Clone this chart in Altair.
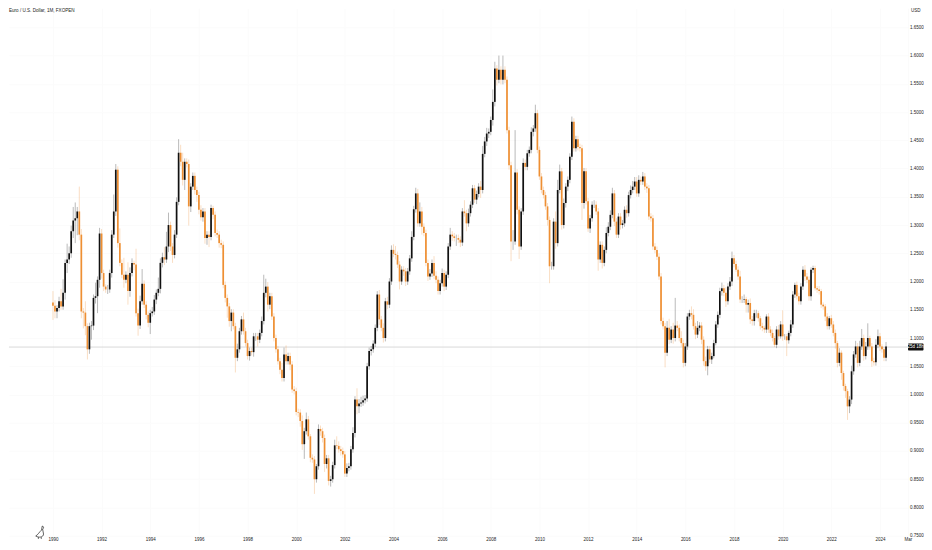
import altair as alt
import pandas as pd

first_open = 1.163
closes = [
 1.157,1.147,1.153,1.165,1.156,1.180,1.233,1.239,1.250,1.289,1.308,1.312,
 1.324,1.283,1.147,1.145,1.121,1.080,1.121,1.122,1.171,1.174,1.203,1.285,
 1.215,1.191,1.186,1.186,1.215,1.283,1.324,1.398,1.268,1.233,1.212,1.203,
 1.212,1.183,1.215,1.233,1.230,1.144,1.122,1.165,1.196,1.159,1.141,1.127,
 1.144,1.147,1.168,1.180,1.187,1.233,1.243,1.239,1.262,1.300,1.262,1.247,
 1.283,1.341,1.428,1.412,1.380,1.412,1.408,1.333,1.368,1.387,1.362,1.353,
 1.327,1.314,1.324,1.277,1.283,1.279,1.330,1.318,1.286,1.283,1.268,1.265,
 1.194,1.171,1.156,1.130,1.145,1.121,1.065,1.080,1.112,1.133,1.112,1.091,
 1.068,1.077,1.075,1.103,1.103,1.097,1.109,1.130,1.180,1.191,1.159,1.174,
 1.138,1.100,1.080,1.059,1.044,1.029,1.071,1.059,1.068,1.053,1.009,1.006,
 0.969,0.968,0.953,0.912,0.935,0.956,0.926,0.888,0.885,0.850,0.873,0.939,
 0.935,0.923,0.877,0.887,0.847,0.850,0.875,0.910,0.909,0.903,0.900,0.894,
 0.860,0.870,0.873,0.903,0.932,0.991,0.979,0.984,0.986,0.990,0.993,1.050,
 1.077,1.080,1.090,1.118,1.177,1.133,1.118,1.100,1.165,1.159,1.200,1.256,
 1.249,1.247,1.230,1.200,1.221,1.218,1.200,1.218,1.241,1.279,1.328,1.356,
 1.303,1.324,1.297,1.286,1.233,1.209,1.214,1.233,1.210,1.203,1.183,1.197,
 1.215,1.191,1.212,1.262,1.283,1.280,1.277,1.277,1.274,1.269,1.324,1.321,
 1.303,1.321,1.336,1.365,1.345,1.355,1.368,1.362,1.426,1.448,1.462,1.465,
 1.486,1.518,1.577,1.557,1.575,1.557,1.575,1.557,1.468,1.406,1.271,1.271,
 1.393,1.327,1.262,1.324,1.410,1.403,1.427,1.433,1.465,1.471,1.498,1.433,
 1.386,1.362,1.353,1.333,1.309,1.227,1.227,1.306,1.268,1.362,1.395,1.300,
 1.339,1.368,1.380,1.421,1.483,1.436,1.452,1.438,1.436,1.339,1.395,1.342,
 1.294,1.312,1.336,1.336,1.324,1.239,1.265,1.233,1.256,1.286,1.297,1.318,
 1.356,1.306,1.283,1.315,1.300,1.303,1.327,1.321,1.353,1.362,1.368,1.377,
 1.356,1.380,1.377,1.386,1.368,1.365,1.315,1.312,1.262,1.256,1.244,1.209,
 1.130,1.121,1.074,1.118,1.097,1.115,1.100,1.122,1.118,1.100,1.091,1.056,
 1.085,1.138,1.144,1.141,1.121,1.106,1.118,1.122,1.097,1.059,1.050,1.080,
 1.062,1.068,1.091,1.124,1.141,1.183,1.188,1.180,1.165,1.191,1.200,1.241,
 1.231,1.221,1.209,1.168,1.168,1.169,1.159,1.162,1.133,1.130,1.144,1.144,
 1.135,1.121,1.118,1.115,1.138,1.115,1.109,1.100,1.088,1.115,1.103,1.124,
 1.103,1.103,1.096,1.109,1.124,1.177,1.194,1.174,1.165,1.191,1.221,1.209,
 1.203,1.174,1.221,1.224,1.188,1.186,1.183,1.159,1.156,1.138,1.121,1.135,
 1.124,1.109,1.091,1.056,1.074,1.038,1.015,1.006,0.979,0.991,1.041,1.071,
 1.085,1.056,1.085,1.100,1.068,1.085,1.100,1.085,1.059,1.057,1.088,1.103,
 1.085,1.080,1.065,1.085,
]
# wick lengths above the body's top, in thousandths of a dollar
upper_wicks = [
 20,10,5,8,22,24,6,28,12,10,24,28,
 8,44,10,6,20,5,6,8,6,24,6,10,
 8,6,4,8,6,8,30,10,6,26,6,30,
 6,22,10,8,4,28,8,10,26,6,6,6,
 6,8,8,6,20,8,8,18,26,22,6,6,
 8,8,24,14,16,6,6,8,6,6,6,6,
 6,8,6,6,6,6,6,4,6,6,6,6,
 6,6,6,6,6,6,6,10,6,6,12,6,
 6,6,6,6,6,6,6,8,32,14,8,6,
 6,6,6,6,6,12,12,16,6,6,6,6,
 6,6,6,10,6,12,6,4,6,6,4,8,
 6,6,6,6,6,6,6,10,16,8,6,6,
 6,8,6,6,10,6,20,8,10,8,6,6,
 6,6,6,6,6,8,6,8,6,8,6,8,
 10,14,6,6,6,6,6,6,6,10,6,10,
 8,16,8,6,6,6,8,6,12,8,6,6,
 8,6,6,6,12,6,6,6,6,6,6,20,
 6,8,6,6,6,6,6,10,14,8,10,6,
 6,22,12,6,25,6,25,6,6,6,6,20,
 75,6,6,6,8,6,6,6,8,6,15,6,
 6,6,6,6,6,6,8,6,18,18,12,6,
 8,6,6,6,9,6,6,6,6,6,6,6,
 6,6,6,8,6,6,6,6,6,10,8,8,
 10,6,6,6,6,6,6,8,6,8,10,8,
 8,8,6,8,6,6,6,6,6,6,6,6,
 6,6,6,12,16,6,12,49,8,6,12,6,
 6,6,6,12,10,6,12,6,6,6,8,6,
 6,6,6,6,6,6,10,6,10,6,8,12,
 6,6,6,10,6,8,4,6,8,6,6,6,
 4,4,6,4,4,6,6,6,4,6,8,6,
 25,4,4,4,8,6,4,6,6,6,6,8,
 6,6,4,4,4,4,6,4,4,4,6,4,
 6,6,6,4,8,4,4,4,4,6,10,6,
 10,6,10,16,6,8,26,4,6,6,10,12,
 6,4,4,8,
]
lower_wicks = [
 25,12,12,6,6,6,12,18,8,8,12,40,
 30,10,12,28,16,18,8,24,8,10,30,14,
 10,8,6,8,6,8,6,8,8,6,6,14,
 6,24,10,6,10,6,18,6,6,6,8,8,
 20,6,6,8,6,8,8,10,6,10,8,14,
 6,6,6,8,10,18,6,34,10,6,8,12,
 8,6,8,10,12,18,6,8,6,6,8,6,
 6,8,20,10,18,6,26,6,6,6,6,6,
 6,8,6,8,8,12,6,6,6,8,12,8,
 6,6,6,6,8,6,6,6,6,10,6,6,
 6,8,10,10,26,6,6,8,6,26,6,6,
 8,8,14,8,8,10,6,6,6,6,8,6,
 6,6,6,6,6,8,14,12,6,6,6,6,
 6,8,6,6,6,10,6,8,6,8,6,6,
 6,8,6,14,6,8,8,6,6,6,6,6,
 6,6,14,6,6,8,6,6,6,6,6,6,
 6,8,6,6,6,8,6,14,6,8,6,6,
 14,6,6,6,6,8,6,14,6,6,8,8,
 6,10,8,10,6,8,8,6,6,8,35,15,
 6,8,22,6,6,6,6,6,6,8,6,6,
 6,6,6,6,10,30,6,6,10,6,6,8,
 6,8,8,6,6,6,6,6,6,30,10,6,
 6,8,6,6,6,20,6,10,6,6,6,6,
 6,8,6,6,8,6,6,8,6,6,6,6,
 6,6,6,6,6,8,6,6,6,6,6,6,
 6,6,26,6,8,6,10,6,6,6,6,8,
 6,6,6,8,6,8,6,6,8,8,8,16,
 6,8,4,4,6,6,8,6,10,6,6,8,
 6,4,6,6,6,6,14,14,8,8,8,8,
 6,6,6,6,6,6,6,6,4,6,6,4,
 8,6,28,6,6,6,6,6,6,6,6,8,
 6,8,8,6,4,6,6,6,6,8,6,6,
 6,6,10,8,6,12,8,12,24,12,8,6,
 6,8,6,6,8,6,6,6,10,6,6,6,
 8,6,6,6,
]

y_ticks = [0.75,0.80,0.85,0.90,0.95,1.00,1.05,1.10,1.15,1.20,1.25,1.30,1.35,1.40,1.45,1.50,1.55,1.60,1.65]
x_ticks = [1990,1992,1994,1996,1998,2000,2002,2004,2006,2008,2010,2012,2014,2016,2018,2020,2022,2024,2025.15]
last_price = 1.084
title_text = "Euro / U.S. Dollar, 1M, FXOPEN"
currency = "USD"
countdown = "25d 18h"

opens = [first_open] + closes[:-1]
df = pd.DataFrame({
    "t": [1990 + i / 12 for i in range(len(closes))],
    "open": opens,
    "close": closes,
    "high": [max(o, c) + u / 1000 for o, c, u in zip(opens, closes, upper_wicks)],
    "low": [min(o, c) - l / 1000 for o, c, l in zip(opens, closes, lower_wicks)],
})
df["dir"] = ["up" if c >= o else "down" for o, c in zip(opens, closes)]

FONT = "Liberation Sans"
x_scale = alt.Scale(domain=[1988.193, 2025.154], nice=False, zero=False)
y_scale = alt.Scale(domain=[0.75, 1.6837], nice=False, zero=False)
color = alt.Color("dir:N", scale=alt.Scale(domain=["up", "down"], range=["#111111", "#ee8f33"]), legend=None)

x_axis = alt.Axis(values=x_ticks, title=None, domain=False, ticks=False, grid=True, gridColor="#fbfbfb",
                  labelFont=FONT, labelFontSize=4.5, labelColor="#222222", labelPadding=1, labelFlush=False,
                  labelExpr="datum.value > 2025 ? 'Mar' : toString(datum.value)", labelOverlap=False, labelBound=False)
y_axis = alt.Axis(values=y_ticks, title=None, domain=False, ticks=False, grid=True, gridColor="#fbfbfb", orient="right",
                  labelFont=FONT, labelFontSize=4.5, labelColor="#222222", labelPadding=1.5, format=".4f",
                  labelOverlap=False, labelBound=False, labelFlush=False)

base = alt.Chart(df)
price_line = alt.Chart(pd.DataFrame({"p": [last_price]})).mark_rule(color="#cfcfcf", strokeWidth=0.8).encode(
    y=alt.Y("p:Q", scale=y_scale, axis=y_axis))
wicks = base.mark_rule(strokeWidth=0.7, opacity=0.42).encode(
    x=alt.X("t:Q", scale=x_scale, axis=x_axis),
    y=alt.Y("low:Q", scale=y_scale, axis=y_axis),
    y2="high:Q", color=color)
bodies = base.mark_rule(strokeWidth=1.7).encode(
    x=alt.X("t:Q", scale=x_scale, axis=x_axis),
    y=alt.Y("open:Q", scale=y_scale, axis=y_axis),
    y2="close:Q", color=color)

box = alt.Chart(pd.DataFrame({"p": [last_price]})).mark_rect(color="#111111", height=7, cornerRadius=1).encode(
    x=alt.value(900), x2=alt.value(915.5), y=alt.Y("p:Q", scale=y_scale, axis=y_axis))
box_text = alt.Chart(pd.DataFrame({"p": [last_price], "s": [countdown]})).mark_text(
    color="white", font=FONT, fontSize=4.5, align="center", baseline="middle").encode(
    x=alt.value(907.7), y=alt.Y("p:Q", scale=y_scale, axis=y_axis), text="s:N")
title_mark = alt.Chart(pd.DataFrame({"s": [title_text]})).mark_text(
    color="#222222", font=FONT, fontSize=4.6, align="left", baseline="middle").encode(
    x=alt.value(0), y=alt.value(3), text="s:N")
usd_mark = alt.Chart(pd.DataFrame({"s": [currency]})).mark_text(
    color="#222222", font=FONT, fontSize=4.5, align="left", baseline="middle").encode(
    x=alt.value(903), y=alt.value(3), text="s:N")
duck_path = ("M0.17,-0.5 C0.3,-0.5 0.3,-0.3 0.2,-0.28 L0.27,0.1 C0.27,0.35 -0.1,0.4 -0.32,0.25 "
             "C-0.15,0.15 -0.05,-0.05 0.12,-0.2 Z M-0.12,0.34 L-0.12,0.47 M0.1,0.34 L0.1,0.47")
logo = alt.Chart(pd.DataFrame({"k": [0]})).mark_point(
    shape=duck_path, size=700, filled=False, stroke="#222222", strokeWidth=0.7, opacity=1).encode(
    x=alt.value(31), y=alt.value(525))

chart = alt.layer(price_line, wicks, bodies, box, box_text, title_mark, usd_mark, logo).resolve_scale(
    x="shared", y="shared"
).properties(width=900, height=528, padding=0, background="white").configure_view(stroke=None)

chart.save("out.html", embed_options={"renderer": "svg", "actions": False})
